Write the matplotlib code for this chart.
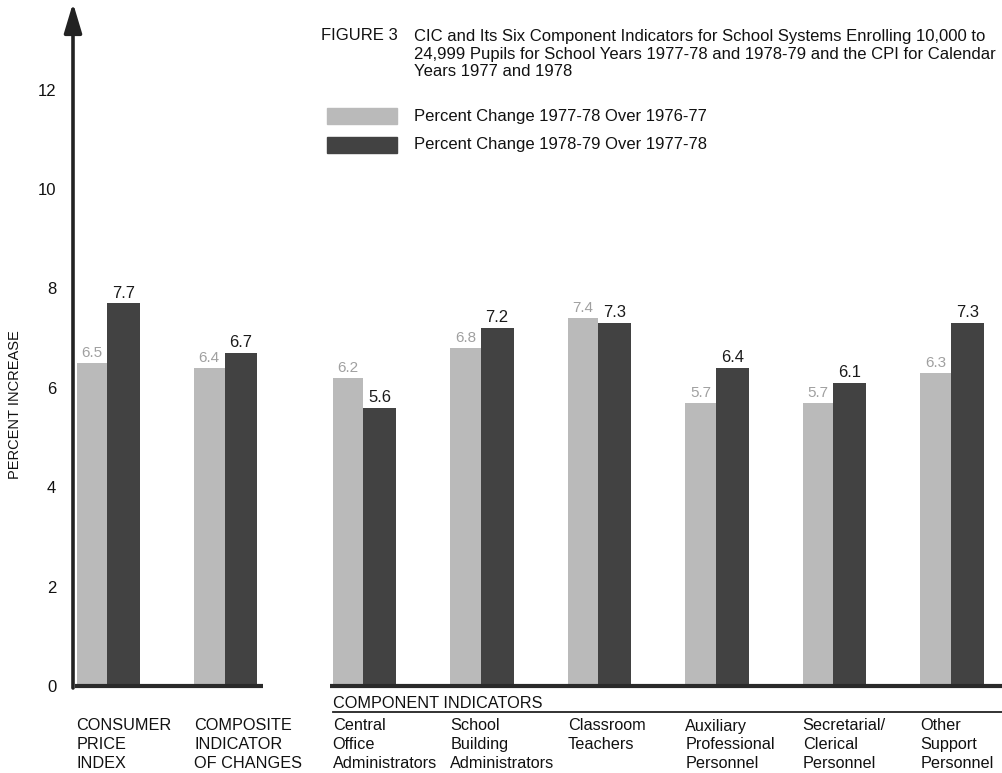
import matplotlib
matplotlib.use("Agg")
import matplotlib.pyplot as plt
from matplotlib.patches import Rectangle

plt.rcParams['font.family'] = ['Liberation Sans', 'DejaVu Sans']

# ---------------- data ----------------
categories = [
    "CONSUMER\nPRICE\nINDEX",
    "COMPOSITE\nINDICATOR\nOF CHANGES",
    "Central\nOffice\nAdministrators",
    "School\nBuilding\nAdministrators",
    "Classroom\nTeachers",
    "Auxiliary\nProfessional\nPersonnel",
    "Secretarial/\nClerical\nPersonnel",
    "Other\nSupport\nPersonnel",
]
change_77_78 = [6.5, 6.4, 6.2, 6.8, 7.4, 5.7, 5.7, 6.3]
change_78_79 = [7.7, 6.7, 5.6, 7.2, 7.3, 6.4, 6.1, 7.3]
series_labels = ["Percent Change 1977-78 Over 1976-77",
                 "Percent Change 1978-79 Over 1977-78"]
yticks = [0, 2, 4, 6, 8, 10, 12]
title_tag = "FIGURE 3"
title_lines = [
    "CIC and Its Six Component Indicators for School Systems Enrolling 10,000 to",
    "24,999 Pupils for School Years 1977-78 and 1978-79 and the CPI for Calendar",
    "Years 1977 and 1978",
]
ylabel = "PERCENT INCREASE"
group_caption = "COMPONENT INDICATORS"

# ---------------- style ----------------
LIGHT = "#bababa"
DARK = "#424242"
W_PX, H_PX = 1002, 773

fig = plt.figure(figsize=(W_PX / 100, H_PX / 100), dpi=100)
fig.patch.set_facecolor("white")

# axes geometry in pixels
ax_left_px, ax_base_px, ax_top_px = 73, 686, 5
ax = fig.add_axes([ax_left_px / W_PX, (H_PX - ax_base_px) / H_PX,
                   (W_PX - ax_left_px) / W_PX, (ax_base_px - ax_top_px) / H_PX])
px_per_unit_y = 49.7
px_per_unit_x = 117.5
ax.set_ylim(0, (ax_base_px - ax_top_px) / px_per_unit_y)
ax.set_xlim(0, (W_PX - ax_left_px) / px_per_unit_x)
for s in ax.spines.values():
    s.set_visible(False)
ax.set_xticks([])
ax.set_yticks(yticks)
ax.set_yticklabels([str(t) for t in yticks], fontsize=12, color="#111111")
ax.tick_params(axis="y", length=0, pad=12)
ax.patch.set_alpha(0)


def fy(px):
    """figure fraction from pixel y (top origin)"""
    return (H_PX - px) / H_PX


def fx(px):
    return px / W_PX


def ay(px):
    """axes fraction from pixel y"""
    return (ax_base_px - px) / (ax_base_px - ax_top_px)


# group positions (extra gap between the two summary groups and the components)
centers = [i + 0.29 + (0.18 if i >= 2 else 0) for i in range(len(categories))]
w_light, w_dark = 0.26, 0.28

for c, v1, v2 in zip(centers, change_77_78, change_78_79):
    ax.bar(c - w_light, v1, width=w_light, align="edge", color=LIGHT, zorder=2)
    ax.bar(c, v2, width=w_dark, align="edge", color=DARK, zorder=2)
    ax.annotate(f"{v1:.1f}", (c - w_light / 2, v1), xytext=(0, 2),
                textcoords="offset points", ha="center", va="bottom",
                fontsize=11, color="#a0a0a0")
    ax.annotate(f"{v2:.1f}", (c + w_dark / 2, v2), xytext=(0, 2),
                textcoords="offset points", ha="center", va="bottom",
                fontsize=12, color="#1a1a1a")

# baselines
ax.plot([0.015, centers[1] + w_dark + 0.05], [0, 0], color="#2a2a2a", lw=3,
        solid_capstyle="butt", zorder=3, clip_on=False)
ax.plot([centers[2] - w_light - 0.02, ax.get_xlim()[1]], [0, 0], color="#2a2a2a",
        lw=3, solid_capstyle="butt", zorder=3, clip_on=False)

# y axis arrow
ax.annotate("", xy=(0, ax.get_ylim()[1] + 0.04), xytext=(0, -0.04),
            xycoords="data",
            arrowprops=dict(arrowstyle="-|>,head_length=0.6,head_width=0.18",
                            mutation_scale=30, lw=2.6, color="#222222",
                            shrinkA=0, shrinkB=0),
            annotation_clip=False)

# category labels
xt = ax.get_xaxis_transform()
line_y = [726, 744.5, 763]
for c, lab in zip(centers, categories):
    for j, line in enumerate(lab.split("\n")):
        ax.text(c - w_light, ay(line_y[j]), line, transform=xt, ha="left",
                va="center", fontsize=11.7, color="#111111")

# component indicators caption and rule
ax.text(centers[2] - w_light, ay(703), group_caption, transform=xt, ha="left",
        va="center", fontsize=11.7, color="#111111")
ax.plot([centers[2] - w_light, ax.get_xlim()[1]], [ay(712), ay(712)],
        transform=xt, color="#222222", lw=1.3, clip_on=False)

# y label
fig.text(fx(15), fy(405), ylabel, rotation=90, ha="center", va="center",
         fontsize=10.5, color="#111111")

# title
fig.text(fx(321), fy(36), title_tag, ha="left", va="center", fontsize=12,
         color="#111111")
for j, line in enumerate(title_lines):
    fig.text(fx(414), fy(36 + 18 * j), line, ha="left", va="center",
             fontsize=12, color="#111111")

# legend
legend_tops = [108, 137]
legend_text_y = [116, 144]
for lab, col, ytop, ty in zip(series_labels, [LIGHT, DARK], legend_tops,
                              legend_text_y):
    fig.patches.append(Rectangle((fx(327), fy(ytop + 16)), fx(70), 16 / H_PX,
                                 transform=fig.transFigure, color=col))
    fig.text(fx(414), fy(ty), lab, ha="left", va="center",
             fontsize=12, color="#111111")

fig.savefig("out.png", dpi=100, facecolor="white")
